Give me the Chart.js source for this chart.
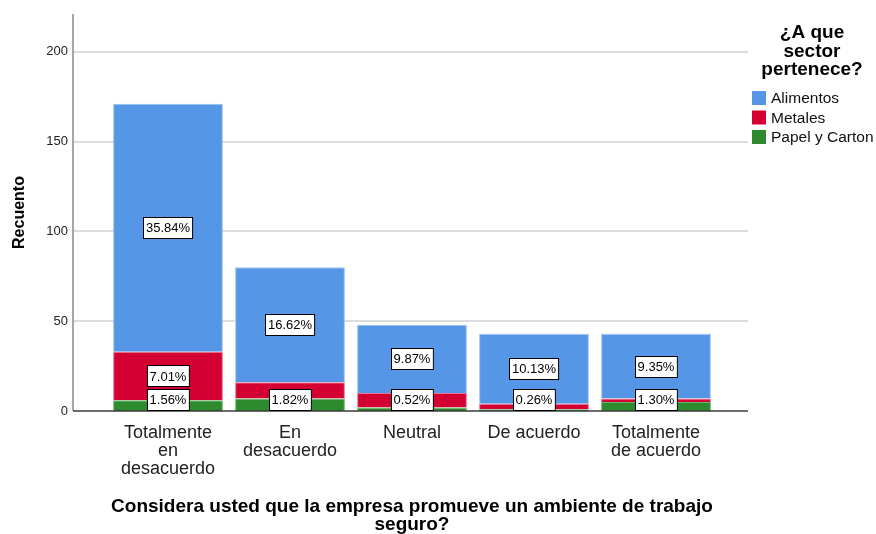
<!DOCTYPE html>
<html>
<head>
<meta charset="utf-8">
<script src="https://cdn.jsdelivr.net/npm/chart.js@4.4.1/dist/chart.umd.min.js"></script>
<style>
  html, body { margin: 0; padding: 0; background: #fff; }
  #wrap { width: 876px; height: 534px; }
</style>
</head>
<body>
<div id="wrap"><canvas id="sectorChart" width="876" height="534"></canvas></div>
<script>
// Data (counts, N = 385)
const categories = [['Totalmente', 'en', 'desacuerdo'], ['En', 'desacuerdo'], 'Neutral', 'De acuerdo', ['Totalmente', 'de acuerdo']];
const alimentos = [138, 64, 38, 39, 36];
const metales = [27, 9, 8, 3, 2];
const papelCarton = [6, 7, 2, 1, 5];

// Percent labels shown on the segments (null = not shown)
const alimentosLabels = ['35.84%', '16.62%', '9.87%', '10.13%', '9.35%'];
const metalesLabels = ['7.01%', null, null, null, null];
const papelLabels = ['1.56%', '1.82%', '0.52%', '0.26%', '1.30%'];

const yTicks = [0, 50, 100, 150, 200];
const legendTitle = ['¿A que', 'sector', 'pertenece?'];

const FONT = "'Liberation Sans', Arial, sans-serif";
const colors = { alimentos: '#5596e6', metales: '#d50032', papel: '#2d8a2d' };

// gridlines and axis lines run a bit wider than the bar area (SPSS style)
const frame = { left: 73, right: 748 };

const framePlugin = {
    id: 'spssFrame',
    beforeDatasetsDraw(chart) {
        const ctx = chart.ctx;
        const y = chart.scales.y;
        ctx.save();
        ctx.strokeStyle = '#dcdcdc';
        ctx.lineWidth = 2;
        yTicks.forEach(v => {
            if (v === 0) return;
            const py = Math.round(y.getPixelForValue(v));
            ctx.beginPath();
            ctx.moveTo(frame.left, py);
            ctx.lineTo(frame.right, py);
            ctx.stroke();
        });
        // y axis line
        ctx.strokeStyle = '#8a8a8a';
        ctx.lineWidth = 1.5;
        ctx.beginPath();
        ctx.moveTo(frame.left, y.getPixelForValue(y.max));
        ctx.lineTo(frame.left, y.getPixelForValue(0));
        ctx.stroke();
        ctx.restore();
    },
    afterDatasetsDraw(chart) {
        const ctx = chart.ctx;
        const y = chart.scales.y;
        const base = y.getPixelForValue(0);
        ctx.save();
        ctx.strokeStyle = '#3a3a3a';
        ctx.lineWidth = 1.5;
        ctx.beginPath();
        ctx.moveTo(frame.left, base);
        ctx.lineTo(frame.right, base);
        ctx.stroke();

        // segment labels: white boxes with black outline
        const labelSets = [papelLabels, metalesLabels, alimentosLabels];
        const boxH = 21;
        ctx.font = '13px ' + FONT;
        ctx.textAlign = 'center';
        ctx.textBaseline = 'middle';
        categories.forEach((c, i) => {
            let prevTop = Infinity;
            labelSets.forEach((labels, d) => {
                const text = labels[i];
                if (!text) return;
                const bar = chart.getDatasetMeta(d).data[i];
                let cy = (bar.y + bar.base) / 2;
                cy = Math.min(cy, base - boxH / 2 - 1);
                if (cy + boxH / 2 > prevTop) cy = prevTop - boxH / 2;
                const w = ctx.measureText(text).width + 5;
                const x0 = Math.round(bar.x - w / 2) + 0.5;
                const y0 = Math.round(cy - boxH / 2) + 0.5;
                ctx.fillStyle = '#fff';
                ctx.fillRect(x0, y0, w, boxH);
                ctx.strokeStyle = '#000';
                ctx.lineWidth = 1;
                ctx.strokeRect(x0, y0, w, boxH);
                ctx.fillStyle = '#000';
                ctx.fillText(text, bar.x, cy + 1);
                prevTop = y0;
            });
        });
        ctx.restore();
    },
    afterDraw(chart) {
        // legend on the right
        const ctx = chart.ctx;
        ctx.save();
        ctx.fillStyle = '#000';
        ctx.font = 'bold 19px ' + FONT;
        ctx.textAlign = 'center';
        ctx.textBaseline = 'middle';
        legendTitle.forEach((line, k) => ctx.fillText(line, 812, 33 + k * 18.5));
        const items = [
            ['Alimentos', colors.alimentos],
            ['Metales', colors.metales],
            ['Papel y Carton', colors.papel]
        ];
        ctx.font = '15.5px ' + FONT;
        ctx.textAlign = 'left';
        items.forEach((it, k) => {
            const cy = 98 + k * 19.5;
            ctx.fillStyle = it[1];
            ctx.fillRect(752, cy - 7, 14, 14);
            ctx.fillStyle = '#111';
            ctx.fillText(it[0], 771, cy + 1);
        });
        ctx.restore();
    }
};

const ctx = document.getElementById('sectorChart').getContext('2d');

const sectorChart = new Chart(ctx, {
    type: 'bar',
    data: {
        labels: categories,
        datasets: [
            { label: 'Papel y Carton', data: papelCarton, backgroundColor: colors.papel, borderColor: '#6fb56f', borderWidth: 1 },
            { label: 'Metales', data: metales, backgroundColor: colors.metales, borderColor: '#e7738f', borderWidth: 1 },
            { label: 'Alimentos', data: alimentos, backgroundColor: colors.alimentos, borderColor: '#9cc4f2', borderWidth: 1 }
        ]
    },
    options: {
        responsive: false,
        animation: false,
        layout: { padding: { top: 14, right: 159, bottom: 0, left: 0 } },
        datasets: { bar: { barPercentage: 0.9, categoryPercentage: 1 } },
        scales: {
            x: {
                stacked: true,
                grid: { display: false },
                border: { display: false },
                afterFit: scale => { scale.height = 123; },
                ticks: {
                    color: '#222',
                    padding: 5,
                    maxRotation: 0,
                    autoSkip: false,
                    font: { family: FONT, size: 18, lineHeight: '18px' }
                },
                title: {
                    display: true,
                    text: ['Considera usted que la empresa promueve un ambiente de trabajo', 'seguro?'],
                    color: '#000',
                    padding: { top: 0, bottom: 0 },
                    font: { family: FONT, size: 19, weight: 'bold', lineHeight: '18px' }
                }
            },
            y: {
                stacked: true,
                bounds: 'data',
                min: 0,
                max: 221,
                grid: { display: false },
                border: { display: false },
                afterFit: scale => {
                    scale.width = 107;
                    // tick padding is only meant horizontally here
                    scale.paddingTop = 0;
                    scale.paddingBottom = 0;
                },
                afterBuildTicks: scale => { scale.ticks = yTicks.map(v => ({ value: v })); },
                ticks: {
                    padding: 31,
                    color: '#222',
                    font: { family: FONT, size: 13 }
                },
                title: {
                    display: true,
                    text: 'Recuento',
                    color: '#000',
                    padding: { top: 10, bottom: 0 },
                    font: { family: FONT, size: 16, weight: 'bold' }
                }
            }
        },
        plugins: {
            legend: { display: false },
            tooltip: { enabled: false }
        }
    },
    plugins: [framePlugin]
});
</script>
</body>
</html>
